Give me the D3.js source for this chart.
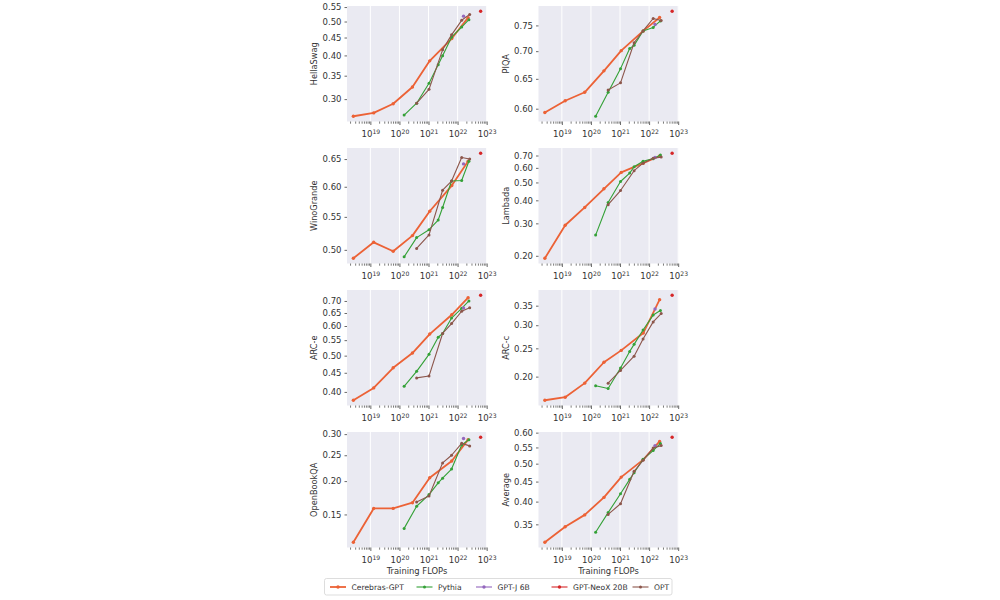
<!DOCTYPE html>
<html><head><meta charset="utf-8">
<script src="https://cdn.jsdelivr.net/npm/d3@7"></script>
<style>body{margin:0;background:#fff}svg{display:block;font-family:"DejaVu Sans",sans-serif}</style>
</head><body><svg id="c" width="1000" height="600"></svg>
<script>
// ---------- data ----------
const tasks = ["HellaSwag","PIQA","WinoGrande","Lambada","ARC-e","ARC-c","OpenBookQA","Average"];
const yTicks = [
  [0.30,0.35,0.40,0.45,0.50,0.55],
  [0.60,0.65,0.70,0.75],
  [0.50,0.55,0.60,0.65],
  [0.20,0.30,0.40,0.50,0.60,0.70],
  [0.40,0.45,0.50,0.55,0.60,0.65,0.70],
  [0.20,0.25,0.30,0.35],
  [0.15,0.20,0.25,0.30],
  [0.35,0.40,0.45,0.50,0.55,0.60]
];
const xMajorTicks = [1e19,1e20,1e21,1e22,1e23];

const cerebrasFlops = [2.6e18,1.3e19,6.1e19,2.8e20,1.1e21,6.3e21,2.3e22];
const pythiaFlops   = [1.45e20,3.9e20,1.04e21,2.15e21,3.05e21,6.2e21,1.38e22,2.45e22];
const gptjFlops     = [1.6e22];
const neoxFlops     = [6.2e22];
const optFlops      = [3.9e20,1.04e21,3.05e21,6.2e21,1.38e22,2.6e22];

// scores per task (order of `tasks`)
const cerebrasScores = [
  [0.268,0.274,0.291,0.325,0.386,0.447,0.513],
  [0.594,0.613,0.627,0.664,0.701,0.739,0.766],
  [0.488,0.511,0.498,0.521,0.559,0.602,0.646],
  [0.194,0.293,0.366,0.462,0.567,0.636,0.696],
  [0.380,0.410,0.464,0.508,0.571,0.643,0.714],
  [0.166,0.170,0.190,0.224,0.246,0.282,0.367],
  [0.118,0.158,0.158,0.166,0.206,0.238,0.286],
  [0.315,0.345,0.370,0.410,0.462,0.512,0.570]
];
const pythiaScores = [
  [0.270,0.292,0.333,0.376,0.399,0.451,0.482,0.506],
  [0.588,0.627,0.668,0.705,0.711,0.739,0.746,0.759],
  [0.490,0.518,0.530,0.545,0.565,0.610,0.611,0.646],
  [0.259,0.389,0.506,0.562,0.608,0.652,0.673,0.705],
  [0.414,0.454,0.504,0.560,0.573,0.630,0.669,0.700],
  [0.186,0.182,0.214,0.244,0.258,0.289,0.325,0.337],
  [0.133,0.161,0.178,0.197,0.205,0.222,0.273,0.286],
  [0.334,0.375,0.419,0.456,0.474,0.513,0.540,0.563]
];
const gptjScores = [[0.518],[0.752],[0.641],[0.683],[0.670],[0.341],[0.289],[0.556]];
const neoxScores = [[0.535],[0.779],[0.661],[0.720],[0.725],[0.380],[0.292],[0.584]];
const optScores = [
  [0.292,0.320,0.415,0.458,0.504,0.524],
  [0.631,0.643,0.716,0.739,0.764,0.760],
  [0.502,0.522,0.594,0.610,0.653,0.650],
  [0.379,0.452,0.579,0.636,0.677,0.686],
  [0.436,0.441,0.573,0.609,0.657,0.671],
  [0.190,0.210,0.235,0.269,0.308,0.329],
  [0.167,0.176,0.234,0.250,0.277,0.271],
  [0.371,0.395,0.478,0.510,0.548,0.556]
];
const seriesNames = ["Cerebras-GPT","Pythia","GPT-J 6B","GPT-NeoX 20B","OPT"];

// ---------- drawing ----------
const series = [
  {name:seriesNames[0], color:"#ec6236", x:cerebrasFlops, y:cerebrasScores, lw:1.8, r:1.7},
  {name:seriesNames[1], color:"#34a137", x:pythiaFlops,   y:pythiaScores,   lw:1.1, r:1.5},
  {name:seriesNames[2], color:"#9467bd", x:gptjFlops,     y:gptjScores,     lw:1.1, r:1.7},
  {name:seriesNames[3], color:"#d62728", x:neoxFlops,     y:neoxScores,     lw:1.1, r:1.7},
  {name:seriesNames[4], color:"#8c564b", x:optFlops,      y:optScores,      lw:1.1, r:1.5}
];
const svg = d3.select("#c");
svg.append("rect").attr("width",1000).attr("height",600).attr("fill","#fff");

const colLeft = [347, 538.5], rowTop = [6, 148, 290, 432], W = 140, H = 115.5;
const txt = "#333";

const allX = series.flatMap(s => s.x).map(Math.log10);
const lxExt = d3.extent(allX), lxPad = (lxExt[1]-lxExt[0])*0.05;
const xDomain = [10**(lxExt[0]-lxPad), 10**(lxExt[1]+lxPad)];

tasks.forEach((task, i) => {
  const col = i % 2, row = Math.floor(i / 2);
  const g = svg.append("g").attr("transform", `translate(${colLeft[col]},${rowTop[row]})`);
  const x = d3.scaleLog().domain(xDomain).range([0, W]);
  const lv = d3.extent(series.flatMap(s => s.y[i]).map(Math.log10));
  const lp = (lv[1]-lv[0])*0.05;
  const y = d3.scaleLog().domain([10**(lv[0]-lp), 10**(lv[1]+lp)]).range([H, 0]);

  g.append("rect").attr("width", W).attr("height", H).attr("fill", "#eaeaf2");
  const majors = xMajorTicks.filter(v => v >= xDomain[0] && v <= xDomain[1]);
  g.selectAll("line.grid").data(majors).enter().append("line")
    .attr("x1", d => x(d)).attr("x2", d => x(d)).attr("y1", 0).attr("y2", H)
    .attr("stroke", "#fff").attr("stroke-width", 1);

  // minor x ticks
  const minors = x.ticks().filter(v => !majors.some(m => Math.abs(m - v) / m < 1e-6));
  const axMinor = g.append("g").attr("transform", `translate(0,${H})`)
    .call(d3.axisBottom(x).tickValues(minors).tickSize(2.2).tickFormat(""));
  axMinor.select(".domain").remove();
  axMinor.selectAll("line").attr("stroke", "#444").attr("stroke-width", 0.7);

  // major x ticks + labels
  const axMajor = g.append("g").attr("transform", `translate(0,${H})`)
    .call(d3.axisBottom(x).tickValues(majors).tickSize(3.5).tickPadding(4).tickFormat(d => ""));
  axMajor.select(".domain").remove();
  axMajor.selectAll("line").attr("stroke", "#444").attr("stroke-width", 0.8);
  axMajor.selectAll(".tick text").each(function(d) {
    const t = d3.select(this);
    t.attr("font-size", 8.6).attr("fill", txt).attr("font-family", "DejaVu Sans").attr("dy", null).attr("y", 15.6);
    t.append("tspan").text("10");
    t.append("tspan").attr("dy", -3.6).attr("font-size", 6.1).text(Math.round(Math.log10(d)));
  });

  // y axis
  const ay = g.append("g")
    .call(d3.axisLeft(y).tickValues(yTicks[i]).tickSize(2.5).tickPadding(3).tickFormat(d3.format(".2f")));
  ay.select(".domain").remove();
  ay.selectAll("line").attr("stroke", "#444").attr("stroke-width", 0.8);
  ay.selectAll("text").attr("font-size", 8.5).attr("fill", txt).attr("font-family", "DejaVu Sans");

  // y label
  g.append("text").attr("transform", `translate(-30,${H/2}) rotate(-90)`)
    .attr("text-anchor", "middle").attr("font-size", 8.2).attr("fill", txt).text(task);

  if (row === 3) {
    g.append("text").attr("x", W/2).attr("y", H + 26).attr("text-anchor", "middle")
      .attr("font-size", 8.4).attr("fill", txt).text("Training FLOPs");
  }

  // series
  const layer = g.append("g");
  series.forEach(s => {
    const pts = s.x.map((fx, k) => [fx, s.y[i][k]]);
    if (pts.length > 1) {
      layer.append("path").datum(pts)
        .attr("d", d3.line().x(d => x(d[0])).y(d => y(d[1])))
        .attr("fill", "none").attr("stroke", s.color).attr("stroke-width", s.lw)
        .attr("stroke-linejoin", "round").attr("stroke-linecap", "round");
    }
    layer.selectAll(null).data(pts).enter().append("circle")
      .attr("cx", d => x(d[0])).attr("cy", d => y(d[1])).attr("r", s.r).attr("fill", s.color);
  });
});

// legend
const lg = svg.append("g");
lg.append("rect").attr("x", 324.5).attr("y", 578.5).attr("width", 347.5).attr("height", 16.5)
  .attr("rx", 2).attr("fill", "#fff").attr("stroke", "#d4d4d4").attr("stroke-width", 0.8);
const handleX = [330, 416.5, 476, 551.5, 632.5];
series.forEach((s, k) => {
  const hx = handleX[k], cy = 587;
  lg.append("line").attr("x1", hx).attr("x2", hx + 16).attr("y1", cy).attr("y2", cy)
    .attr("stroke", s.color).attr("stroke-width", s.lw);
  lg.append("circle").attr("cx", hx + 8).attr("cy", cy).attr("r", s.r).attr("fill", s.color);
  lg.append("text").attr("x", hx + 21.5).attr("y", cy + 2.8).attr("font-size", 7.6)
    .attr("fill", txt).text(s.name);
});
</script>
</body></html>
